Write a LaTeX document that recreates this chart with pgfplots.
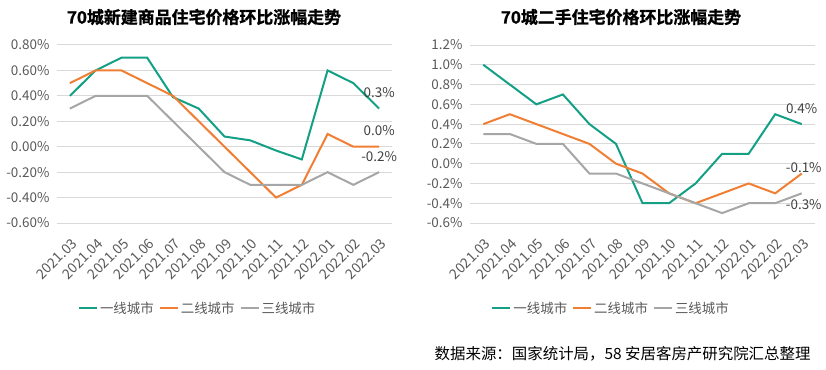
\documentclass[border=0pt]{standalone}
\usepackage{pgfplots}
\pgfplotsset{compat=1.18}
\usepackage{fontspec}
\setmainfont{Noto Sans CJK SC}
\newfontfamily\tf[RawFeature={embolden=1.2}]{Noto Sans CJK SC Bold}
\definecolor{cA}{HTML}{14A085}
\definecolor{cB}{HTML}{F07F33}
\definecolor{cC}{HTML}{A6A6A6}
\definecolor{tk}{HTML}{595959}
\definecolor{gr}{HTML}{D9D9D9}
\pgfplotsset{
  base/.style={
    scale only axis,
    xmin=-0.5, xmax=12.5,
    xtick={0,...,12},
    xticklabels={2021.03,2021.04,2021.05,2021.06,2021.07,2021.08,2021.09,2021.10,2021.11,2021.12,2022.01,2022.02,2022.03},
    x tick label style={rotate=45, anchor=east, font=\fontsize{14}{15}\selectfont, text=tk, yshift=-16bp, xshift=-6bp},
    y tick label style={font=\fontsize{13.5}{14}\selectfont, text=tk, xshift=-4bp},
    axis line style={draw=none},
    major tick style={draw=none},
    ymajorgrids, grid style={gr, line width=1bp},
    legend columns=3,
    legend style={draw=none, fill=none, font=\fontsize{13.5}{14}\selectfont, text=tk, anchor=center,
      /tikz/every even column/.append style={column sep=3bp}},
    legend image code/.code={\draw[#1, line width=2bp] (0bp,0bp) -- (18bp,0bp);},
    every axis plot/.append style={line width=2bp, no markers},
    clip=false,
  }
}
\begin{document}
\begin{tikzpicture}[x=1bp,y=1bp]
\useasboundingbox (0,0) rectangle (826,369);
\node[font=\tf\fontsize{17}{18}\selectfont] at (204,352) {70城新建商品住宅价格环比涨幅走势};
\node[font=\tf\fontsize{17}{18}\selectfont] at (621,352) {70城二手住宅价格环比涨幅走势};
\node[anchor=east, font=\fontsize{15.5}{16}\selectfont, text=black] at (814,15) {数据来源：国家统计局，58 安居客房产研究院汇总整理};
\begin{axis}[base, at={(57bp,146bp)}, anchor=south west, width=335bp, height=178bp,
  ymin=-0.6, ymax=0.8, ytick={-0.6,-0.4,-0.2,0,0.2,0.4,0.6,0.8},
  yticklabels={-0.60\%,-0.40\%,-0.20\%,0.00\%,0.20\%,0.40\%,0.60\%,0.80\%},
  legend style={at={(axis description cs:0.42,-0.478)}}]
\addplot[cA] coordinates {(0,0.4)(1,0.6)(2,0.7)(3,0.7)(4,0.39)(5,0.3)(6,0.08)(7,0.05)(8,-0.03)(9,-0.1)(10,0.6)(11,0.5)(12,0.3)};
\addplot[cB] coordinates {(0,0.5)(1,0.6)(2,0.6)(3,0.5)(4,0.4)(5,0.2)(6,0.0)(7,-0.2)(8,-0.4)(9,-0.3)(10,0.1)(11,0.0)(12,0.0)};
\addplot[cC] coordinates {(0,0.3)(1,0.4)(2,0.4)(3,0.4)(4,0.2)(5,0.0)(6,-0.2)(7,-0.3)(8,-0.3)(9,-0.3)(10,-0.2)(11,-0.3)(12,-0.2)};
\legend{一线城市,二线城市,三线城市}
\node[font=\fontsize{13.5}{14}\selectfont, text=black!75] at (axis cs:12,0.3) [yshift=16bp] {0.3\%};
\node[font=\fontsize{13.5}{14}\selectfont, text=black!75] at (axis cs:12,0.0) [yshift=16bp] {0.0\%};
\node[font=\fontsize{13.5}{14}\selectfont, text=black!75] at (axis cs:12,-0.2) [yshift=16bp] {-0.2\%};
\end{axis}
\begin{axis}[base, at={(470bp,146bp)}, anchor=south west, width=345bp, height=178bp,
  ymin=-0.6, ymax=1.2, ytick={-0.6,-0.4,-0.2,0,0.2,0.4,0.6,0.8,1.0,1.2},
  yticklabels={-0.6\%,-0.4\%,-0.2\%,0.0\%,0.2\%,0.4\%,0.6\%,0.8\%,1.0\%,1.2\%},
  legend style={at={(axis description cs:0.409,-0.478)}}]
\addplot[cA] coordinates {(0,1.0)(1,0.8)(2,0.6)(3,0.7)(4,0.4)(5,0.2)(6,-0.4)(7,-0.4)(8,-0.2)(9,0.1)(10,0.1)(11,0.5)(12,0.4)};
\addplot[cB] coordinates {(0,0.4)(1,0.5)(2,0.4)(3,0.3)(4,0.2)(5,0.0)(6,-0.1)(7,-0.3)(8,-0.4)(9,-0.3)(10,-0.2)(11,-0.3)(12,-0.1)};
\addplot[cC] coordinates {(0,0.3)(1,0.3)(2,0.2)(3,0.2)(4,-0.1)(5,-0.1)(6,-0.2)(7,-0.3)(8,-0.4)(9,-0.5)(10,-0.4)(11,-0.4)(12,-0.3)};
\legend{一线城市,二线城市,三线城市}
\node[font=\fontsize{13.5}{14}\selectfont, text=black!75] at (axis cs:12,0.4) [yshift=16bp] {0.4\%};
\node[font=\fontsize{13.5}{14}\selectfont, text=black!75] at (axis cs:12,-0.1) [xshift=2bp,yshift=6bp] {-0.1\%};
\node[font=\fontsize{13.5}{14}\selectfont, text=black!75] at (axis cs:12,-0.3) [xshift=2bp,yshift=-11bp] {-0.3\%};
\end{axis}
\end{tikzpicture}
\end{document}
